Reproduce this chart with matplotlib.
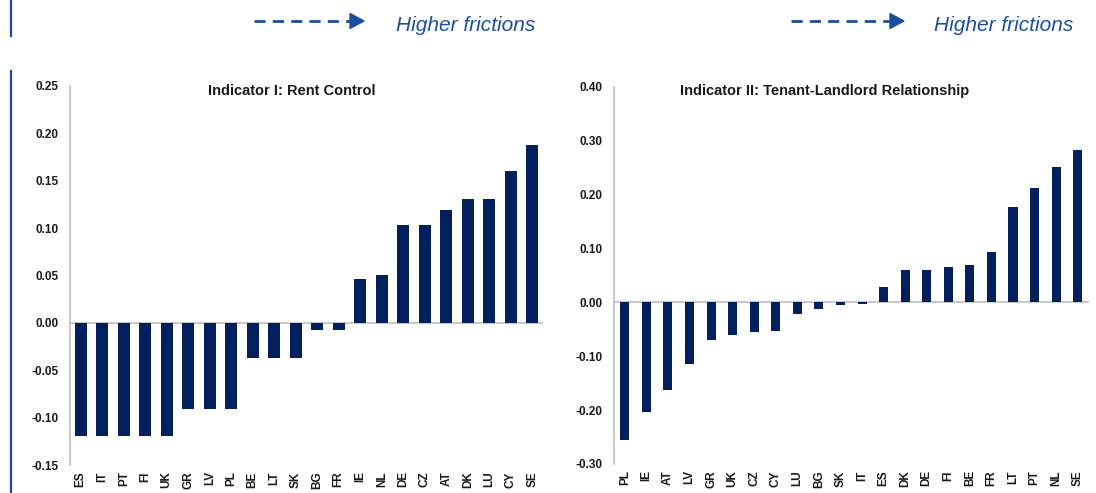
import matplotlib
matplotlib.use("Agg")
import matplotlib.pyplot as plt
from matplotlib.lines import Line2D
from matplotlib.patches import Polygon

plt.rcParams['font.family'] = ['Liberation Sans', 'DejaVu Sans']
plt.rcParams['lines.scale_dashes'] = False

# ---- data ----
rc_countries = ["ES", "IT", "PT", "FI", "UK", "GR", "LV", "PL", "BE", "LT", "SK",
                "BG", "FR", "IE", "NL", "DE", "CZ", "AT", "DK", "LU", "CY", "SE"]
rc_values = [-0.119, -0.119, -0.119, -0.119, -0.119, -0.091, -0.091, -0.091,
             -0.037, -0.037, -0.037, -0.008, -0.008, 0.046, 0.051, 0.103,
             0.103, 0.119, 0.131, 0.131, 0.160, 0.188]
rc_ticks = [0.25, 0.20, 0.15, 0.10, 0.05, 0.00, -0.05, -0.10, -0.15]

tl_countries = ["PL", "IE", "AT", "LV", "GR", "UK", "CZ", "CY", "LU", "BG", "SK",
                "IT", "ES", "DK", "DE", "FI", "BE", "FR", "LT", "PT", "NL", "SE"]
tl_values = [-0.255, -0.203, -0.163, -0.115, -0.070, -0.060, -0.055, -0.054,
             -0.022, -0.012, -0.005, -0.003, 0.028, 0.059, 0.059, 0.065,
             0.069, 0.094, 0.177, 0.212, 0.251, 0.283]
tl_ticks = [0.40, 0.30, 0.20, 0.10, 0.00, -0.10, -0.20, -0.30]

titles = ["Indicator I: Rent Control", "Indicator II: Tenant-Landlord Relationship"]
arrow_label = "Higher frictions"

# ---- style ----
W, H = 1096, 493
BAR = "#03205E"
GRID = "#BFBFBF"
BLUE = "#1C4E9D"

fig = plt.figure(figsize=(W / 100, H / 100), dpi=100)


def px_axes(x0, x1, ytop, ybot):
    return fig.add_axes([x0 / W, 1 - ybot / H, (x1 - x0) / W, (ybot - ytop) / H])


def style(ax, cats, vals, ticks, width, title, tx):
    x = range(len(cats))
    ax.bar(x, vals, width=width, color=BAR, zorder=3)
    ax.set_xlim(-0.5, len(cats) - 0.5)
    ax.set_ylim(min(ticks), max(ticks))
    ax.set_yticks(ticks)
    ax.set_yticklabels([f"{t:.2f}" for t in ticks], fontsize=8.5, fontweight='bold',
                       color='#1a1a1a')
    ax.set_xticks(list(x))
    ax.set_xticklabels(cats, rotation=90, fontsize=8.5, fontweight='bold',
                       color='#1a1a1a')
    ax.tick_params(axis='both', length=0)
    ax.tick_params(axis='y', pad=8)
    ax.tick_params(axis='x', pad=4.5)
    for s in ['top', 'right', 'bottom']:
        ax.spines[s].set_visible(False)
    ax.spines['left'].set_color(GRID)
    ax.spines['left'].set_linewidth(1.2)
    ax.axhline(0, color=GRID, lw=1.2, zorder=2)
    ax.text(tx, 0.988, title, transform=ax.transAxes, ha='center', va='center',
            fontsize=10.5, fontweight='bold', color='#1a1a1a')


ax1 = px_axes(70, 543, 86, 465)
style(ax1, rc_countries, rc_values, rc_ticks, 0.54, titles[0], 0.468)

ax2 = px_axes(614, 1088.5, 86.7, 464)
style(ax2, tl_countries, tl_values, tl_ticks, 0.42, titles[1], 0.4447)

# ---- decorations ----
def fx(px):
    return px / W


def fy(py):
    return 1 - py / H


# vertical blue rule on the left
fig.add_artist(Line2D([fx(11), fx(11)], [fy(0), fy(36)], color=BLUE, lw=1.6))
fig.add_artist(Line2D([fx(11), fx(11)], [fy(71), fy(493)], color=BLUE, lw=1.6))


def arrow(x_start, x_tip, x_text, y=21):
    fig.add_artist(Line2D([fx(x_start), fx(x_tip - 12)], [fy(y), fy(y)],
                          color=BLUE, lw=2.0, linestyle=(0, (8, 5.2))))
    fig.add_artist(Polygon([[fx(x_tip - 14), fy(y - 7.5)],
                            [fx(x_tip - 14), fy(y + 7.5)],
                            [fx(x_tip), fy(y)]], closed=True, color=BLUE,
                           transform=fig.transFigure))
    fig.text(fx(x_text), fy(31), arrow_label, fontsize=15, fontstyle='italic',
             color=BLUE, ha='left', va='baseline')


arrow(254, 364, 396)
arrow(791, 904, 934)

fig.savefig("out.png", dpi=100)
